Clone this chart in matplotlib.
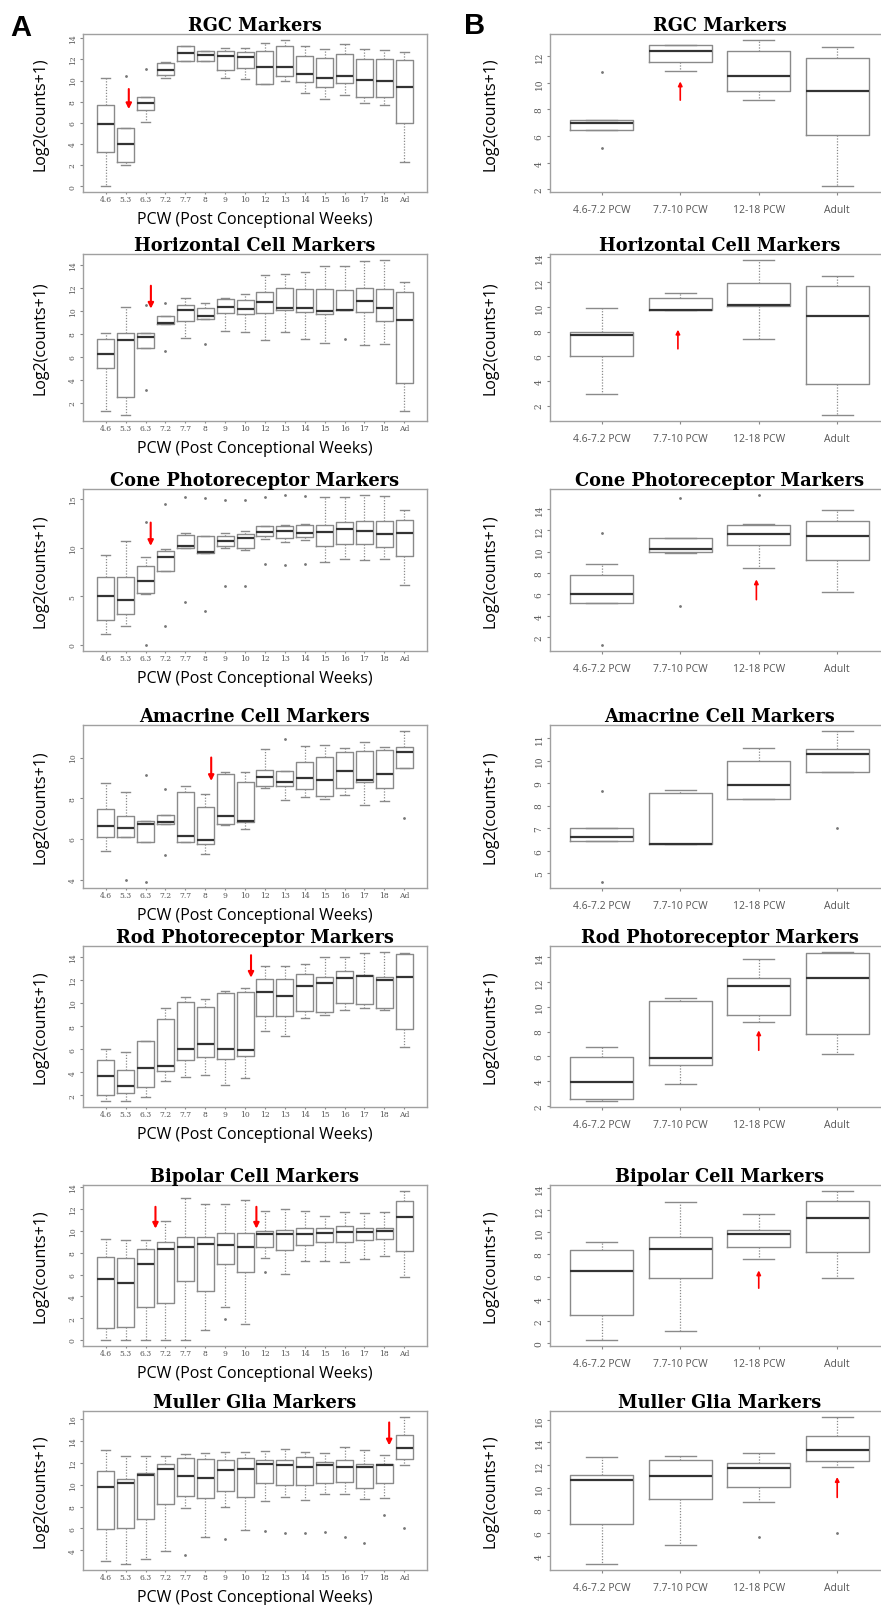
"""
Marker-gene expression per developmental stage, redrawn as R-style boxplots.
Left column: every sampled week.  Right column: the same genes pooled by stage.
"""

import matplotlib
matplotlib.use("Agg")
import matplotlib.pyplot as plt

# ── Categories ──────────────────────────────────────────────────
WEEKS = ["4.6", "5.3", "6.3", "7.2", "7.7", "8", "9", "10",
         "12", "13", "14", "15", "16", "17", "18", "Ad"]
STAGES = ["4.6-7.2 PCW", "7.7-10 PCW", "12-18 PCW", "Adult"]
TITLES = ["RGC Markers", "Horizontal Cell Markers", "Cone Photoreceptor Markers",
          "Amacrine Cell Markers", "Rod Photoreceptor Markers",
          "Bipolar Cell Markers", "Muller Glia Markers"]

# ── Box statistics: (whisker low, Q1, median, Q3, whisker high)
rgc_weeks = [
    (0.00, 3.26, 5.85, 7.70, 10.20), (1.96, 2.28, 4.00, 5.54, 5.54),
    (6.10, 7.20, 7.85, 8.48, 8.48), (10.20, 10.57, 11.00, 11.68, 11.75),
    (11.87, 11.87, 12.66, 13.30, 13.30), (11.87, 11.87, 12.44, 12.80, 12.80),
    (10.20, 11.00, 12.34, 12.85, 13.10), (10.13, 11.20, 12.20, 12.72, 13.10),
    (9.65, 9.65, 11.30, 12.80, 13.60), (10.00, 10.44, 11.33, 13.30, 13.86),
    (8.86, 9.90, 10.66, 12.34, 13.30), (8.29, 9.37, 10.25, 12.18, 13.04),
    (8.67, 9.75, 10.40, 12.53, 13.50), (7.88, 8.45, 10.06, 12.06, 13.04),
    (7.69, 8.48, 9.94, 12.06, 12.90), (2.28, 6.00, 9.43, 11.96, 12.75),
]
rgc_weeks_out = {1: [10.44], 2: [11.10]}

horiz_weeks = [
    (1.22, 4.99, 6.20, 7.59, 8.09), (0.93, 2.49, 7.50, 8.09, 10.35),
    (6.78, 6.78, 7.71, 8.09, 8.09), (8.84, 8.84, 8.93, 9.57, 9.57),
    (7.65, 9.10, 10.06, 10.55, 11.10), (9.33, 9.33, 9.57, 10.29, 10.67),
    (8.23, 9.83, 10.38, 11.04, 11.16), (8.14, 9.71, 10.14, 10.93, 11.45),
    (7.45, 9.83, 10.75, 11.62, 13.13), (8.14, 10.06, 10.26, 12.00, 13.19),
    (7.51, 9.91, 10.26, 11.88, 13.42), (7.16, 9.77, 10.03, 11.88, 13.94),
    (10.12, 10.12, 10.12, 11.80, 13.94), (7.01, 9.88, 10.84, 12.00, 14.35),
    (7.10, 9.10, 10.26, 11.94, 14.43), (1.22, 3.74, 9.22, 11.62, 12.52),
]
horiz_weeks_out = {2: [10.55, 3.13], 3: [10.70, 6.49], 5: [7.13], 12: [7.57]}

cone_weeks = [
    (1.13, 2.60, 5.06, 7.00, 9.22), (1.91, 3.14, 4.65, 7.04, 10.69),
    (5.23, 5.36, 6.59, 8.10, 9.05), (7.65, 7.65, 9.02, 9.67, 9.91),
    (10.01, 10.01, 10.18, 11.31, 11.55), (9.46, 9.46, 9.60, 11.17, 11.17),
    (9.98, 10.15, 10.69, 11.27, 11.51), (9.74, 9.94, 10.97, 11.45, 11.72),
    (10.93, 11.17, 11.65, 12.23, 12.30), (10.59, 11.04, 11.72, 12.23, 12.33),
    (10.80, 11.14, 11.58, 12.37, 12.47), (8.54, 10.22, 11.62, 12.37, 15.27),
    (8.81, 10.39, 11.89, 12.64, 15.27), (8.71, 10.35, 11.75, 12.74, 15.44),
    (8.88, 10.08, 11.45, 12.74, 15.34), (6.18, 9.19, 11.51, 12.88, 13.87),
]
cone_weeks_out = {2: [12.64, 0.0], 3: [14.49, 1.98], 4: [15.27, 4.44],
                  5: [15.10, 3.45], 6: [14.93, 6.08], 7: [14.90, 6.05],
                  8: [15.27, 8.30], 9: [15.41, 8.20], 10: [15.37, 8.30]}

amacrine_weeks = [
    (5.43, 6.11, 6.65, 7.46, 8.75), (6.11, 6.11, 6.55, 7.15, 8.33),
    (5.84, 5.84, 6.75, 6.89, 6.89), (6.75, 6.75, 6.85, 7.19, 7.19),
    (5.85, 5.85, 6.13, 8.33, 8.59), (5.25, 5.74, 5.93, 7.58, 8.23),
    (6.67, 6.76, 7.15, 9.17, 9.27), (6.49, 6.83, 6.88, 8.80, 9.27),
    (8.50, 8.59, 9.04, 9.37, 10.42), (7.89, 8.59, 8.80, 9.35, 9.35),
    (8.05, 8.46, 9.01, 9.77, 10.55), (7.97, 8.13, 8.89, 10.03, 10.62),
    (8.16, 8.52, 9.32, 10.28, 10.46), (7.67, 8.78, 8.89, 10.34, 10.76),
    (7.85, 8.52, 9.17, 10.37, 10.52), (9.48, 9.48, 10.29, 10.52, 11.30),
]
amacrine_weeks_out = {1: [4.00], 2: [9.14, 3.89], 3: [8.46, 5.19],
                      9: [10.93], 15: [7.01]}

rod_weeks = [
    (1.51, 2.00, 3.65, 5.10, 6.00), (1.51, 2.23, 2.84, 4.23, 5.74),
    (1.88, 2.72, 4.35, 6.75, 6.75), (3.25, 4.09, 4.52, 8.61, 9.54),
    (3.57, 5.04, 6.00, 10.09, 10.52), (3.74, 5.30, 6.41, 9.65, 10.32),
    (2.87, 5.13, 6.06, 10.87, 11.01), (3.51, 5.39, 5.97, 10.93, 11.28),
    (7.57, 8.87, 10.96, 12.12, 13.19), (7.16, 8.87, 10.64, 12.12, 13.22),
    (8.70, 9.28, 11.51, 12.52, 13.42), (9.01, 9.25, 11.74, 12.23, 13.97),
    (9.42, 9.97, 12.20, 12.75, 13.97), (9.57, 9.88, 12.38, 12.41, 14.35),
    (9.36, 9.57, 11.97, 12.29, 14.43), (6.17, 7.77, 12.26, 14.29, 14.35),
]
rod_weeks_out = {}

bipolar_weeks = [
    (0.00, 1.09, 5.59, 7.60, 9.21), (0.00, 1.22, 5.23, 7.48, 9.12),
    (0.00, 3.01, 6.99, 8.30, 9.12), (0.00, 3.40, 8.30, 8.97, 10.88),
    (0.00, 5.41, 8.51, 9.39, 13.00), (0.91, 4.53, 8.78, 9.45, 12.43),
    (2.98, 6.99, 8.69, 9.76, 12.43), (1.43, 6.23, 8.48, 9.76, 12.80),
    (7.48, 8.51, 9.73, 10.00, 11.82), (6.08, 8.24, 9.70, 10.12, 12.04),
    (7.23, 8.72, 9.70, 10.27, 11.82), (7.20, 8.97, 9.79, 10.24, 11.40),
    (7.17, 8.97, 9.91, 10.43, 11.76), (7.42, 9.12, 9.91, 10.27, 11.67),
    (7.69, 9.21, 9.97, 10.27, 11.76), (5.81, 8.15, 11.25, 12.70, 13.65),
]
bipolar_weeks_out = {6: [1.95], 8: [6.20]}

muller_weeks = [
    (3.03, 5.94, 9.76, 11.27, 13.21), (2.73, 6.00, 10.18, 10.52, 12.61),
    (3.24, 6.82, 10.91, 11.03, 12.61), (3.94, 8.27, 11.42, 11.91, 12.64),
    (7.85, 9.00, 10.79, 12.48, 12.82), (5.24, 8.76, 10.64, 12.39, 12.91),
    (8.00, 9.39, 11.33, 12.24, 13.00), (5.88, 8.85, 11.42, 12.48, 12.97),
    (8.55, 10.12, 11.88, 12.30, 13.09), (8.85, 9.97, 11.76, 12.30, 13.30),
    (8.61, 10.00, 11.58, 12.52, 13.00), (9.15, 10.12, 11.76, 12.09, 12.94),
    (9.15, 10.27, 11.61, 12.24, 13.42), (8.70, 9.73, 11.61, 11.94, 13.21),
    (8.79, 10.18, 11.76, 11.91, 12.70), (11.85, 12.39, 13.39, 14.58, 16.21),
]
muller_weeks_out = {4: [3.52], 6: [5.06], 8: [5.76], 9: [5.58], 10: [5.55],
                    11: [5.67], 12: [5.21], 13: [4.67], 14: [7.27], 15: [6.00]}

rgc_stages = [(6.43, 6.43, 7.01, 7.24, 7.24), (10.91, 11.59, 12.35, 12.81, 12.81),
              (8.68, 9.39, 10.48, 12.41, 13.22), (2.25, 6.05, 9.37, 11.87, 12.68)]
rgc_stages_out = {0: [10.78, 5.11]}

horiz_stages = [(2.95, 5.98, 7.72, 7.99, 9.90), (9.77, 9.77, 9.77, 10.69, 11.13),
                (7.42, 10.04, 10.15, 11.89, 13.77), (1.26, 3.72, 9.22, 11.65, 12.52)]
horiz_stages_out = {}

cone_stages = [(5.14, 5.20, 6.02, 7.81, 8.81), (9.88, 9.94, 10.26, 11.29, 11.29),
               (8.50, 10.63, 11.61, 12.46, 12.61), (6.18, 9.22, 11.48, 12.83, 13.87)]
cone_stages_out = {0: [11.73, 1.25], 1: [15.03, 4.95], 2: [15.31]}

amacrine_stages = [(6.44, 6.44, 6.59, 7.02, 7.02), (6.31, 6.31, 6.31, 8.58, 8.69),
                   (8.31, 8.31, 8.92, 9.99, 10.54), (9.49, 9.49, 10.29, 10.53, 11.31)]
amacrine_stages_out = {0: [8.66, 4.61], 3: [6.99]}

rod_stages = [(2.42, 2.55, 3.95, 5.96, 6.80), (3.79, 5.32, 5.88, 10.47, 10.71),
              (8.81, 9.31, 11.66, 12.32, 13.82), (6.17, 7.80, 12.32, 14.32, 14.40)]
rod_stages_out = {}

bipolar_stages = [(0.27, 2.53, 6.52, 8.42, 9.11), (1.10, 5.89, 8.48, 9.55, 12.74),
                  (7.62, 8.63, 9.88, 10.18, 11.64), (5.83, 8.21, 11.28, 12.80, 13.72)]
bipolar_stages_out = {}

muller_stages = [(3.26, 6.79, 10.68, 11.09, 12.75), (4.92, 9.01, 11.00, 12.46, 12.81),
                 (8.78, 10.08, 11.74, 12.19, 13.08), (11.80, 12.40, 13.38, 14.59, 16.26)]
muller_stages_out = {2: [5.63], 3: [6.02]}

# y tick spacing for each panel
weeks_ytick_step = [2, 2, 5, 2, 2, 2, 2]
stages_ytick_step = [2, 2, 2, 1, 2, 2, 2]

# red arrows: (x position, tail y, head y)
weeks_arrows = [[(2.16, 9.2, 7.3)], [(3.27, 12.2, 10.2)], [(3.26, 12.6, 10.2)],
                [(6.3, 10.0, 8.85)], [(8.3, 14.15, 12.2)],
                [(3.5, 12.2, 10.2), (8.57, 12.2, 10.2)], [(15.24, 15.7, 13.6)]]
stages_arrows = [[(2.0, 8.7, 10.1)], [(1.97, 6.6, 8.15)], [(2.97, 5.5, 7.4)], [],
                 [(3.0, 6.5, 8.1)], [(3.0, 4.95, 6.55)], [(4.0, 9.15, 10.95)]]

weeks_data = [rgc_weeks, horiz_weeks, cone_weeks, amacrine_weeks,
              rod_weeks, bipolar_weeks, muller_weeks]
weeks_out = [rgc_weeks_out, horiz_weeks_out, cone_weeks_out, amacrine_weeks_out,
             rod_weeks_out, bipolar_weeks_out, muller_weeks_out]
stages_data = [rgc_stages, horiz_stages, cone_stages, amacrine_stages,
               rod_stages, bipolar_stages, muller_stages]
stages_out = [rgc_stages_out, horiz_stages_out, cone_stages_out, amacrine_stages_out,
              rod_stages_out, bipolar_stages_out, muller_stages_out]

# ── Layout (pixels of the 881 x 1606 canvas) ────────────────────
W, H = 881, 1606
LEFT_X = (83, 427)
RIGHT_X = (550, 889)
ROWS = [(35, 193), (255, 422), (490, 652), (726, 889),
        (947, 1108), (1186, 1347), (1412, 1571)]

BOX_GRAY = "#8a8a8a"
TEXT_GRAY = "#555555"
SANS = ["Open Sans", "DejaVu Sans"]
SERIF = ["DejaVu Serif"]


def px_axes(fig, xs, ys):
    x0, x1 = xs
    y0, y1 = ys
    return fig.add_axes([x0 / W, 1 - y1 / H, (x1 - x0) / W, (y1 - y0) / H])


def make_stats(rows, outliers):
    stats = []
    for i, (lo, q1, med, q3, hi) in enumerate(rows):
        stats.append(dict(whislo=lo, q1=q1, med=med, q3=q3, whishi=hi,
                          fliers=outliers.get(i, [])))
    return stats


def draw_panel(ax, rows, outliers, labels, width, step, title, arrows,
               xtick_font, xtick_size, arrow_lw, arrow_scale):
    n = len(rows)
    ax.bxp(make_stats(rows, outliers), positions=range(1, n + 1), widths=width,
           boxprops=dict(color=BOX_GRAY, linewidth=1.0),
           whiskerprops=dict(color=BOX_GRAY, linewidth=0.9, linestyle=(0, (1, 1.3))),
           capprops=dict(color=BOX_GRAY, linewidth=1.0),
           medianprops=dict(color="#333333", linewidth=1.6),
           flierprops=dict(marker="o", markersize=1.0, markerfacecolor="#777777",
                           markeredgecolor="#777777", linestyle="none"))

    # R-style limits: 4 % padding beyond the data range
    vals = [v for r in rows for v in r] + [v for f in outliers.values() for v in f]
    lo, hi = min(vals), max(vals)
    pad = 0.04 * (hi - lo)
    ax.set_ylim(lo - pad, hi + pad)
    ax.set_xlim(0.5 - 0.04 * n, n + 0.5 + 0.04 * n)

    first = int(-(-(lo - pad) // step) * step)
    ticks = list(range(first, int(hi + pad) + 1, step))
    ax.set_yticks(ticks)
    ax.set_yticklabels([str(t) for t in ticks], rotation=90, va="center",
                       fontsize=5.5 if n > 4 else 6.5, family=SERIF, color=TEXT_GRAY)
    ax.set_xticks(range(1, n + 1))
    ax.set_xticklabels(labels, fontsize=xtick_size, family=xtick_font, color=TEXT_GRAY)

    for s in ax.spines.values():
        s.set_color("#a0a0a0")
        s.set_linewidth(1.0)
    ax.tick_params(axis="both", colors="#888888", length=2.5, width=0.8, pad=2)
    ax.tick_params(axis="x", labelcolor=TEXT_GRAY)
    ax.tick_params(axis="y", labelcolor=TEXT_GRAY)

    ax.set_title(title, family=SERIF, fontweight="bold", fontsize=12.8, pad=3)
    ax.set_ylabel("Log2(counts+1)", family=SANS, fontsize=11.5)

    for x, y_tail, y_head in arrows:
        ax.annotate("", xy=(x, y_head), xytext=(x, y_tail),
                    arrowprops=dict(arrowstyle="-|>", color="red", lw=arrow_lw,
                                    mutation_scale=arrow_scale, shrinkA=0, shrinkB=0))


fig = plt.figure(figsize=(W / 100, H / 100), dpi=100)

for i, (y0, y1) in enumerate(ROWS):
    h = y1 - y0

    axl = px_axes(fig, LEFT_X, (y0, y1))
    draw_panel(axl, weeks_data[i], weeks_out[i], WEEKS, 0.85, weeks_ytick_step[i],
               TITLES[i], weeks_arrows[i], SERIF, 5.5, 1.5, 8)
    axl.tick_params(axis="x", length=1.5, pad=0.5)
    axl.yaxis.set_label_coords((48 - LEFT_X[0]) / (LEFT_X[1] - LEFT_X[0]), 0.5)
    axl.set_xlabel("PCW (Post Conceptional Weeks)", family=SANS, fontsize=11.5)
    axl.xaxis.set_label_coords(0.5, -19 / h)
    axl.xaxis.label.set_verticalalignment("top")

    axr = px_axes(fig, RIGHT_X, (y0, y1))
    draw_panel(axr, stages_data[i], stages_out[i], STAGES, 0.8, stages_ytick_step[i],
               TITLES[i], stages_arrows[i], SANS, 7.5, 1.2, 6)
    axr.yaxis.set_label_coords((498 - RIGHT_X[0]) / (RIGHT_X[1] - RIGHT_X[0]), 0.5)
    axr.tick_params(axis="x", pad=6)

fig.text(10 / W, 1 - 36 / H, "A", family=["Liberation Sans", "DejaVu Sans"],
         fontweight="bold", fontsize=21)
fig.text(464 / W, 1 - 34 / H, "B", family=["Liberation Sans", "DejaVu Sans"],
         fontweight="bold", fontsize=21)

fig.savefig("out.png", dpi=100)
